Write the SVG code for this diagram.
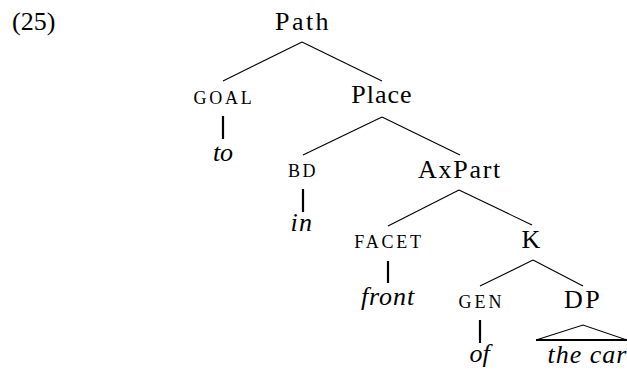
<svg xmlns="http://www.w3.org/2000/svg" width="627" height="371" viewBox="0 0 627 371">
  <rect width="627" height="371" fill="#fff"/>

  <!-- example number -->
  <text x="12" y="30" font-family="Liberation Serif, serif" font-size="26" fill="#000">(25)</text>

  <!-- tree branches, unary stems and the DP roof -->
  <g id="connectors" stroke="#000" fill="none">
    <g stroke-width="1.1">
      <line x1="302" y1="42" x2="223" y2="81"/>
      <line x1="302" y1="42" x2="382" y2="81"/>
      <line x1="382" y1="117" x2="303" y2="155"/>
      <line x1="382" y1="117" x2="460" y2="155"/>
      <line x1="459" y1="190" x2="388" y2="226"/>
      <line x1="459" y1="190" x2="532" y2="225"/>
      <line x1="533" y1="260" x2="480" y2="286"/>
      <line x1="533" y1="260" x2="583" y2="286"/>
      <polyline points="536,340 583,325 627,340"/>
    </g>
    <g stroke-width="2.2">
      <line x1="223" y1="116" x2="223" y2="139"/>
      <line x1="303" y1="189" x2="303" y2="212"/>
      <line x1="388" y1="261" x2="388" y2="283"/>
      <line x1="480" y1="320" x2="480" y2="343"/>
    </g>
    <line x1="536" y1="340" x2="627" y2="340" stroke-width="2"/>
  </g>

  <!-- node labels: categories upright, features in small capitals, words italic -->
  <g font-family="Liberation Serif, serif" text-anchor="middle" fill="#000">
    <g id="path"><text x="303" y="30" font-size="26" letter-spacing="2.4">Path</text></g>
    <g id="goal"><text x="224" y="104" font-size="18" letter-spacing="2.7">GOAL</text></g>
    <g id="place"><text x="382" y="103" font-size="26" letter-spacing="1">Place</text></g>
    <g id="to"><text x="223" y="161" font-size="26" font-style="italic">to</text></g>
    <g id="bd"><text x="303" y="177" font-size="18" letter-spacing="2.5">BD</text></g>
    <g id="axpart"><text x="460" y="178" font-size="26" letter-spacing="1.7">AxPart</text></g>
    <g id="in"><text x="302" y="231" font-size="26" font-style="italic" letter-spacing="1.5">in</text></g>
    <g id="facet"><text x="389" y="248" font-size="18" letter-spacing="2.8">FACET</text></g>
    <g id="k"><text x="531" y="248" font-size="26">K</text></g>
    <g id="front"><text x="388" y="305" font-size="26" font-style="italic" letter-spacing="0.9">front</text></g>
    <g id="gen"><text x="481.5" y="308" font-size="18" letter-spacing="3">GEN</text></g>
    <g id="dp"><text x="583" y="308" font-size="26" letter-spacing="2.4">DP</text></g>
    <g id="of"><text x="479.5" y="362" font-size="26" font-style="italic">of</text></g>
    <g id="the-car"><text x="587.5" y="363" font-size="26" font-style="italic" letter-spacing="1">the car</text></g>
  </g>
</svg>
